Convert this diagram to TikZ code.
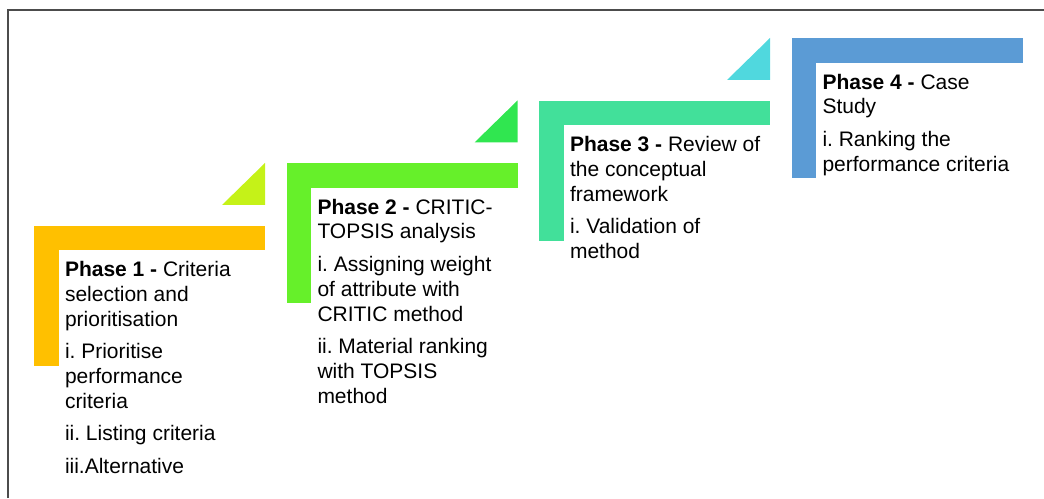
\documentclass[tikz,border=0pt]{standalone}
\usepackage{fontspec}
\setmainfont{Liberation Sans}
\usetikzlibrary{positioning}
\frenchspacing

\definecolor{phaseone}{RGB}{255,192,0}
\definecolor{phasetwo}{RGB}{102,240,42}
\definecolor{phasethree}{RGB}{66,224,154}
\definecolor{phasefour}{RGB}{91,155,213}
\definecolor{wedgeone}{RGB}{197,242,24}
\definecolor{wedgetwo}{RGB}{48,230,80}
\definecolor{wedgethree}{RGB}{80,216,222}

\tikzset{
    bar/.style={rectangle, inner sep=0pt, outer sep=0pt, minimum width=231pt, minimum height=24.5pt, anchor=north west},
    stem/.style={rectangle, inner sep=0pt, outer sep=0pt, minimum width=24.5pt, minimum height=115.5pt},
    phasetext/.style={inner sep=0pt, outer sep=0pt, align=left, font=\fontsize{21}{24.7}\selectfont}
}

\begin{document}
\begin{tikzpicture}[x=1pt, y=1pt]
    \useasboundingbox (0,0) rectangle (1044,498);
    \draw [line width=1.3pt, black!70] (8,0) -- (8,488) -- (1044,488);

    % phase 1
    \node (bar1) [bar, fill=phaseone] at (34,272) {};
    \node (stem1) [stem, fill=phaseone, below right=0pt and 0pt of bar1.south west] {};
    \fill [wedgeone] (bar1.north east) ++(0,21) -- ++(0,42) -- ++(-43,-42) -- cycle;
    \node (text1) [phasetext, below right=35.5pt and 31pt of bar1.north west] {
        \textbf{Phase 1 -} Criteria\\
        selection and\\
        prioritisation\\[8pt]
        i. Prioritise\\
        performance\\
        criteria\\[8pt]
        ii. Listing criteria\\[8pt]
        iii.Alternative
    };

    % phase 2
    \node (bar2) [bar, fill=phasetwo] at (286.5,334.5) {};
    \node (stem2) [stem, fill=phasetwo, below right=0pt and 0pt of bar2.south west] {};
    \fill [wedgetwo] (bar2.north east) ++(0,21) -- ++(0,42) -- ++(-43,-42) -- cycle;
    \node (text2) [phasetext, below right=35.5pt and 31pt of bar2.north west] {
        \textbf{Phase 2 -} CRITIC-\\
        TOPSIS analysis\\[8pt]
        i. Assigning weight\\
        of attribute with\\
        CRITIC method\\[8pt]
        ii. Material ranking\\
        with TOPSIS\\
        method
    };

    % phase 3
    \node (bar3) [bar, fill=phasethree] at (539,397) {};
    \node (stem3) [stem, fill=phasethree, below right=0pt and 0pt of bar3.south west] {};
    \fill [wedgethree] (bar3.north east) ++(0,21) -- ++(0,42) -- ++(-43,-42) -- cycle;
    \node (text3) [phasetext, below right=35.5pt and 31pt of bar3.north west] {
        \textbf{Phase 3 -} Review of\\
        the conceptual\\
        framework\\[8pt]
        i. Validation of\\
        method
    };

    % phase 4
    \node (bar4) [bar, fill=phasefour] at (791.5,459.5) {};
    \node (stem4) [stem, fill=phasefour, below right=0pt and 0pt of bar4.south west] {};
    \node (text4) [phasetext, below right=35.5pt and 31pt of bar4.north west] {
        \textbf{Phase 4 -} Case\\
        Study\\[8pt]
        i. Ranking the\\
        performance criteria
    };
\end{tikzpicture}
\end{document}
